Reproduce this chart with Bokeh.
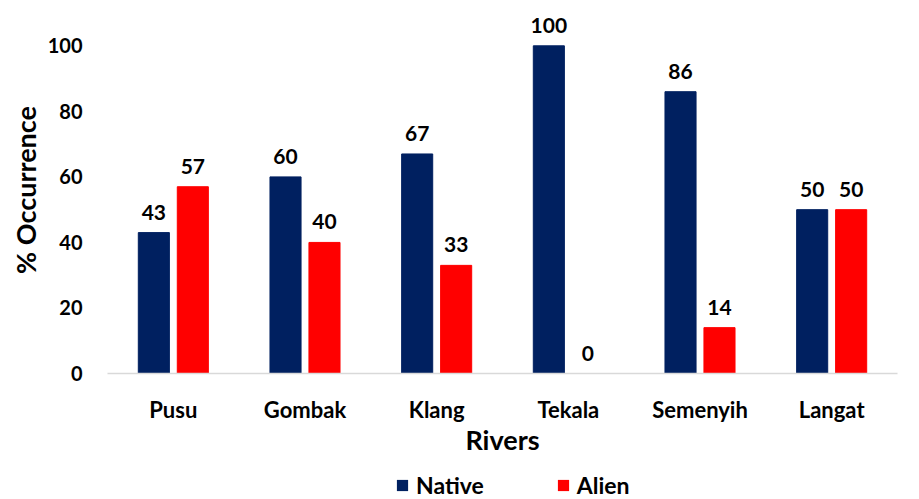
from bokeh.plotting import figure
from bokeh.models import ColumnDataSource, FactorRange, Range1d, Legend, LegendItem, FixedTicker
from bokeh.transform import dodge
from bokeh.layouts import column
from bokeh.core.properties import value
from bokeh.embed import file_html
from bokeh.resources import INLINE

rivers = ["Pusu", "Gombak", "Klang", "Tekala", "Semenyih", "Langat"]
native = [43, 60, 67, 100, 86, 50]
alien = [57, 40, 33, 0, 14, 50]
y_ticks = [0, 20, 40, 60, 80, 100]
series = ["Native", "Alien"]

FONT = "Lato"
NAVY = "#002060"
RED = "#FF0000"

src = ColumnDataSource(dict(
    river=rivers, native=native, alien=alien,
    native_lbl=[str(v) for v in native], alien_lbl=[str(v) for v in alien],
))

p = figure(width=919, height=464, x_range=FactorRange(*rivers), y_range=Range1d(0, 112),
           output_backend="svg", toolbar_location=None,
           min_border_left=107, min_border_right=22, min_border_top=6, min_border_bottom=91)
p.outline_line_color = None
p.xgrid.grid_line_color = None
p.ygrid.grid_line_color = None

bw = 0.236
off = 0.148
p.vbar(x=dodge("river", -off, range=p.x_range), top="native", width=bw, source=src,
       fill_color=NAVY, line_color=NAVY)
p.vbar(x=dodge("river", off, range=p.x_range), top="alien", width=bw, source=src,
       fill_color=RED, line_color=RED)

for col, lbl, o in (("native", "native_lbl", -off), ("alien", "alien_lbl", off)):
    p.text(x=dodge("river", o, range=p.x_range), y=col, text=lbl, source=src,
           text_align="center", text_baseline="bottom", y_offset=-13,
           text_font=value(FONT), text_font_style="bold", text_font_size="21px",
           text_color="#000000")

# axes
p.xaxis.axis_line_color = "#d9d9d9"
p.xaxis.axis_line_width = 1.5
p.xaxis.major_tick_line_color = None
p.xaxis.minor_tick_line_color = None
p.xaxis.major_label_standoff = 16
p.xaxis.major_label_text_font = FONT
p.xaxis.major_label_text_font_style = "bold"
p.xaxis.major_label_text_font_size = "22px"
p.xaxis.major_label_text_color = "#000000"
p.xaxis.axis_label = "Rivers"
p.xaxis.axis_label_text_font = FONT
p.xaxis.axis_label_text_font_style = "bold"
p.xaxis.axis_label_text_font_size = "27px"
p.xaxis.axis_label_text_color = "#000000"
p.xaxis.axis_label_standoff = -3

p.yaxis.ticker = FixedTicker(ticks=y_ticks)
p.yaxis.axis_line_color = None
p.yaxis.major_tick_line_color = None
p.yaxis.minor_tick_line_color = None
p.yaxis.major_label_standoff = 19
p.yaxis.major_label_text_font = FONT
p.yaxis.major_label_text_font_style = "bold"
p.yaxis.major_label_text_font_size = "20px"
p.yaxis.major_label_text_color = "#000000"
p.yaxis.axis_label = "% Occurrence"
p.yaxis.axis_label_text_font = FONT
p.yaxis.axis_label_text_font_style = "bold"
p.yaxis.axis_label_text_font_size = "27px"
p.yaxis.axis_label_text_color = "#000000"
p.yaxis.axis_label_standoff = 3

# legend strip (zero-height proxy renderers, nothing visible is drawn)
lg = figure(width=919, height=35, x_range=Range1d(0, 1), y_range=Range1d(0, 1),
            output_backend="svg", toolbar_location=None,
            x_axis_type=None, y_axis_type=None,
            min_border_left=0, min_border_right=0, min_border_top=0, min_border_bottom=0)
lg.outline_line_color = None
lg.xgrid.grid_line_color = None
lg.ygrid.grid_line_color = None
proxy = ColumnDataSource(dict(x=[0.5], top=[0]))
r1 = lg.vbar(x="x", top="top", width=0.01, source=proxy, fill_color=NAVY, line_color=None)
r2 = lg.vbar(x="x", top="top", width=0.01, source=proxy, fill_color=RED, line_color=None)

legend = Legend(items=[LegendItem(label=series[0], renderers=[r1]),
                       LegendItem(label=series[1], renderers=[r2])],
                orientation="horizontal", location=(288, 0),
                border_line_color=None, background_fill_alpha=0,
                padding=0, margin=0, spacing=72,
                glyph_width=14, glyph_height=14, label_standoff=7,
                label_text_font=FONT, label_text_font_style="bold",
                label_text_font_size="23px", label_text_color="#000000")
lg.add_layout(legend, "center")

open("out.html", "w").write(file_html(column(p, lg, spacing=0), INLINE))
